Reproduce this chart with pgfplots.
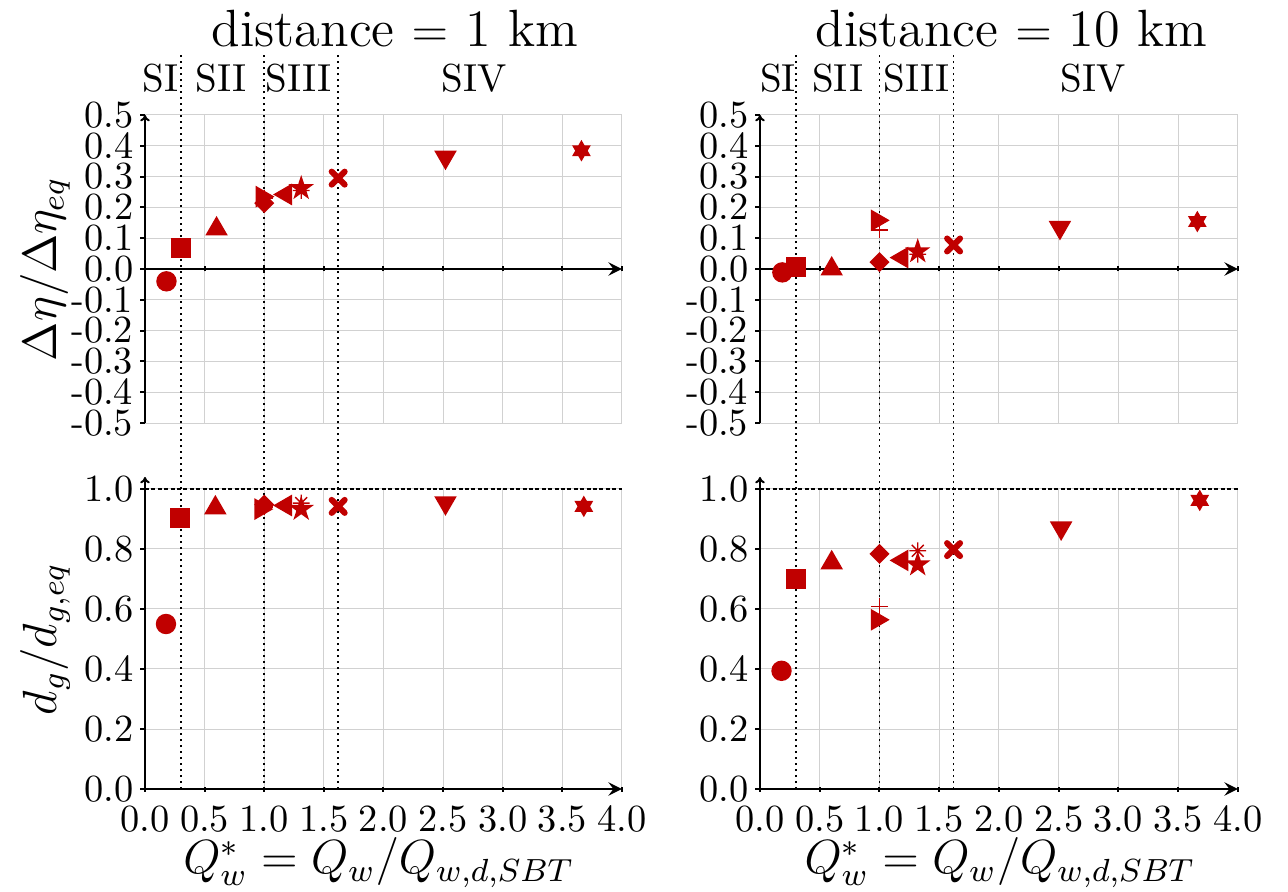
\documentclass[border=0pt]{standalone}
\usepackage{pgfplots}
\pgfplotsset{compat=1.18}
\usetikzlibrary{arrows.meta}
\definecolor{mred}{RGB}{192,0,0}

\pgfdeclareplotmark{pentagram}{%
 \pgfpathmoveto{\pgfpointpolar{90}{\pgfplotmarksize}}%
 \pgfpathlineto{\pgfpointpolar{126}{0.382\pgfplotmarksize}}%
 \pgfpathlineto{\pgfpointpolar{162}{\pgfplotmarksize}}%
 \pgfpathlineto{\pgfpointpolar{198}{0.382\pgfplotmarksize}}%
 \pgfpathlineto{\pgfpointpolar{234}{\pgfplotmarksize}}%
 \pgfpathlineto{\pgfpointpolar{270}{0.382\pgfplotmarksize}}%
 \pgfpathlineto{\pgfpointpolar{306}{\pgfplotmarksize}}%
 \pgfpathlineto{\pgfpointpolar{342}{0.382\pgfplotmarksize}}%
 \pgfpathlineto{\pgfpointpolar{18}{\pgfplotmarksize}}%
 \pgfpathlineto{\pgfpointpolar{54}{0.382\pgfplotmarksize}}%
 \pgfpathclose
 \pgfusepathqfillstroke}
\pgfdeclareplotmark{hexagram}{%
 \pgfpathmoveto{\pgfpointpolar{90}{\pgfplotmarksize}}%
 \pgfpathlineto{\pgfpointpolar{120}{0.5774\pgfplotmarksize}}%
 \pgfpathlineto{\pgfpointpolar{150}{\pgfplotmarksize}}%
 \pgfpathlineto{\pgfpointpolar{180}{0.5774\pgfplotmarksize}}%
 \pgfpathlineto{\pgfpointpolar{210}{\pgfplotmarksize}}%
 \pgfpathlineto{\pgfpointpolar{240}{0.5774\pgfplotmarksize}}%
 \pgfpathlineto{\pgfpointpolar{270}{\pgfplotmarksize}}%
 \pgfpathlineto{\pgfpointpolar{300}{0.5774\pgfplotmarksize}}%
 \pgfpathlineto{\pgfpointpolar{330}{\pgfplotmarksize}}%
 \pgfpathlineto{\pgfpointpolar{0}{0.5774\pgfplotmarksize}}%
 \pgfpathlineto{\pgfpointpolar{30}{\pgfplotmarksize}}%
 \pgfpathlineto{\pgfpointpolar{60}{0.5774\pgfplotmarksize}}%
 \pgfpathclose
 \pgfusepathqfillstroke}
\pgfdeclareplotmark{asterisk8}{%
 \pgfpathmoveto{\pgfqpoint{-\pgfplotmarksize}{0pt}}\pgfpathlineto{\pgfqpoint{\pgfplotmarksize}{0pt}}%
 \pgfpathmoveto{\pgfqpoint{0pt}{-\pgfplotmarksize}}\pgfpathlineto{\pgfqpoint{0pt}{\pgfplotmarksize}}%
 \pgfpathmoveto{\pgfpointpolar{45}{\pgfplotmarksize}}\pgfpathlineto{\pgfpointpolar{225}{\pgfplotmarksize}}%
 \pgfpathmoveto{\pgfpointpolar{135}{\pgfplotmarksize}}\pgfpathlineto{\pgfpointpolar{315}{\pgfplotmarksize}}%
 \pgfusepathqstroke}

\newcommand{\tickfont}{\fontsize{9.6}{11}\selectfont}
\newcommand{\regfont}{\fontsize{9.75}{11}\selectfont}
\newcommand{\labfont}{\fontsize{12}{14}\selectfont}
\newcommand{\titfont}{\fontsize{13.1}{15}\selectfont}

\pgfplotsset{
 mk/.style={only marks, color=mred, fill=mred},
 mO/.style={mk, mark=*, mark size=2.35pt},
 mS/.style={mk, mark=square*, mark size=2.3pt},
 mTu/.style={mk, mark=triangle*, mark size=2.85pt},
 mD/.style={mk, mark=square*, mark size=1.57pt, mark options={rotate=45}},
 mTr/.style={mk, mark=triangle*, mark size=2.75pt, mark options={rotate=-90}},
 mP/.style={mk, mark=+, mark size=2.1pt, mark options={line width=0.35pt}},
 mTl/.style={mk, mark=triangle*, mark size=2.75pt, mark options={rotate=90}},
 mPent/.style={mk, mark=pentagram, mark size=2.7pt},
 mAst/.style={mk, mark=asterisk8, mark size=2.1pt, mark options={line width=0.35pt}},
 mX/.style={mk, mark=x, mark size=2.3pt, mark options={line width=1.5pt, line cap=round}},
 mTd/.style={mk, mark=triangle*, mark size=2.85pt, mark options={rotate=180}},
 mHex/.style={mk, mark=hexagram, mark size=2.3pt},
 regline/.style={no marks, black, line width=0.4pt, dash pattern=on 0.4pt off 1.1pt},
 common/.style={
  scale only axis, anchor=south west,
  xmin=0, xmax=4,
  axis y line=left,
  clip=false,
  xtick={0,0.5,1,1.5,2,2.5,3,3.5,4},
  tick align=outside,
  major tick length=1.25pt,
  every tick/.style={black, line width=0.5pt},
  grid=major,
  grid style={line width=0.25pt, black!18},
  axis line style={line width=0.5pt, -{To[length=1.6pt,width=2.4pt]}},
  tick label style={font=\tickfont},
  yticklabel style={inner xsep=1.5pt, inner ysep=0pt},
  xticklabel style={inner xsep=0pt},
  label style={font=\labfont},
  title style={font=\titfont, anchor=base},
  hide obscured x ticks=false, hide obscured y ticks=false,
 },
 topax/.style={common, width=119.25pt, height=77pt,
  ymin=-0.5, ymax=0.5, axis x line=middle,
  ytick={-0.5,-0.4,-0.3,-0.2,-0.1,0,0.1,0.2,0.3,0.4,0.5},
  yticklabels={-0.5,-0.4,-0.3,-0.2,-0.1,0.0,0.1,0.2,0.3,0.4,0.5},
  xticklabels={},
 },
 botax/.style={common, width=119.25pt, height=75pt,
  ymin=0, ymax=1, axis x line=bottom,
  y axis line style={shorten >=-3pt},
  ytick={0,0.2,0.4,0.6,0.8,1},
  yticklabels={0.0,0.2,0.4,0.6,0.8,1.0},
  xticklabels={0.0,0.5,1.0,1.5,2.0,2.5,3.0,3.5,4.0},
  xlabel={$Q^*_w = Q_w/Q_{w,d,SBT}$},
  xlabel style={at={(axis description cs:0.49,-0.283)}, anchor=base},
 },
}

\begin{document}
\begin{tikzpicture}
\useasboundingbox (0pt,0pt) rectangle (322pt,222.75pt);

% ---------- top left ----------
\begin{axis}[topax, at={(36.25pt,117pt)},
  title={distance $=$ 1 km}, title style={at={(axis description cs:0.524,1.143)}},
  ylabel={$\Delta\eta/\Delta\eta_{eq}$},
  ylabel style={at={(axis description cs:-0.2096,0.5)}, anchor=center}]
\addplot[regline] coordinates {(0.3,-0.5) (0.3,0.705)};
\addplot[regline] coordinates {(1.0,-0.5) (1.0,0.705)};
\addplot[regline] coordinates {(1.62,-0.5) (1.62,0.705)};
\node[anchor=base, font=\regfont] at (axis cs:0.13,0.5747) {SI};
\node[anchor=base, font=\regfont] at (axis cs:0.64,0.5747) {SII};
\node[anchor=base, font=\regfont] at (axis cs:1.29,0.5747) {SIII};
\node[anchor=base, font=\regfont] at (axis cs:2.76,0.5747) {SIV};
\addplot[mO] coordinates {(0.18,-0.04)};
\addplot[mS] coordinates {(0.30,0.067)};
\addplot[mTu] coordinates {(0.60,0.13)};
\addplot[mD] coordinates {(1.00,0.214)};
\addplot[mTr] coordinates {(0.98,0.235)};
\addplot[mP] coordinates {(1.00,0.23)};
\addplot[mTl] coordinates {(1.18,0.242)};
\addplot[mPent] coordinates {(1.31,0.262)};
\addplot[mAst] coordinates {(1.31,0.255)};
\addplot[mX] coordinates {(1.62,0.295)};
\addplot[mTd] coordinates {(2.52,0.363)};
\addplot[mHex] coordinates {(3.66,0.384)};
\end{axis}

% ---------- top right ----------
\begin{axis}[topax, at={(190pt,117pt)}, width=119.5pt,
  title={distance $=$ 10 km}, title style={at={(axis description cs:0.526,1.143)}}]
\addplot[regline] coordinates {(0.3,-0.5) (0.3,0.705)};
\addplot[regline] coordinates {(1.0,-0.5) (1.0,0.705)};
\addplot[regline] coordinates {(1.62,-0.5) (1.62,0.705)};
\node[anchor=base, font=\regfont] at (axis cs:0.15,0.5747) {SI};
\node[anchor=base, font=\regfont] at (axis cs:0.65,0.5747) {SII};
\node[anchor=base, font=\regfont] at (axis cs:1.31,0.5747) {SIII};
\node[anchor=base, font=\regfont] at (axis cs:2.79,0.5747) {SIV};
\addplot[mO] coordinates {(0.187,-0.011)};
\addplot[mS] coordinates {(0.30,0.005)};
\addplot[mTu] coordinates {(0.60,0.0)};
\addplot[mD] coordinates {(1.00,0.022)};
\addplot[mTr] coordinates {(0.98,0.158)};
\addplot[mP] coordinates {(1.00,0.127)};
\addplot[mTl] coordinates {(1.19,0.037)};
\addplot[mPent] coordinates {(1.32,0.057)};
\addplot[mAst] coordinates {(1.32,0.048)};
\addplot[mX] coordinates {(1.62,0.078)};
\addplot[mTd] coordinates {(2.51,0.135)};
\addplot[mHex] coordinates {(3.66,0.154)};
\end{axis}

% ---------- bottom left ----------
\begin{axis}[botax, at={(36.25pt,25.5pt)},
  ylabel={$d_g/d_{g,eq}$},
  ylabel style={at={(axis description cs:-0.2096,0.5)}, anchor=center}]
\addplot[regline] coordinates {(0.3,0) (0.3,1.22)};
\addplot[regline] coordinates {(1.0,0) (1.0,1.22)};
\addplot[regline] coordinates {(1.62,0) (1.62,1.22)};
\addplot[no marks, black, line width=0.5pt, dash pattern=on 1pt off 0.6pt] coordinates {(0,1) (4,1)};
\addplot[mO] coordinates {(0.176,0.55)};
\addplot[mS] coordinates {(0.29,0.903)};
\addplot[mTu] coordinates {(0.59,0.937)};
\addplot[mD] coordinates {(1.00,0.948)};
\addplot[mTr] coordinates {(0.97,0.933)};
\addplot[mP] coordinates {(1.00,0.94)};
\addplot[mTl] coordinates {(1.18,0.945)};
\addplot[mPent] coordinates {(1.31,0.933)};
\addplot[mAst] coordinates {(1.31,0.953)};
\addplot[mX] coordinates {(1.62,0.942)};
\addplot[mTd] coordinates {(2.52,0.954)};
\addplot[mHex] coordinates {(3.68,0.942)};
\end{axis}

% ---------- bottom right ----------
\begin{axis}[botax, at={(190pt,25.5pt)}, width=119.5pt,
  xlabel style={at={(axis description cs:0.502,-0.283)}}]
\addplot[regline] coordinates {(0.3,0) (0.3,1.22)};
\addplot[regline] coordinates {(1.0,0) (1.0,1.22)};
\addplot[regline] coordinates {(1.62,0) (1.62,1.22)};
\addplot[no marks, black, line width=0.5pt, dash pattern=on 1pt off 0.6pt] coordinates {(0,1) (4,1)};
\addplot[mO] coordinates {(0.18,0.394)};
\addplot[mS] coordinates {(0.30,0.70)};
\addplot[mTu] coordinates {(0.60,0.754)};
\addplot[mD] coordinates {(1.00,0.784)};
\addplot[mTr] coordinates {(0.98,0.564)};
\addplot[mP] coordinates {(1.00,0.609)};
\addplot[mTl] coordinates {(1.19,0.762)};
\addplot[mPent] coordinates {(1.32,0.748)};
\addplot[mAst] coordinates {(1.32,0.794)};
\addplot[mX] coordinates {(1.62,0.798)};
\addplot[mTd] coordinates {(2.52,0.87)};
\addplot[mHex] coordinates {(3.68,0.962)};
\end{axis}
\end{tikzpicture}
\end{document}
